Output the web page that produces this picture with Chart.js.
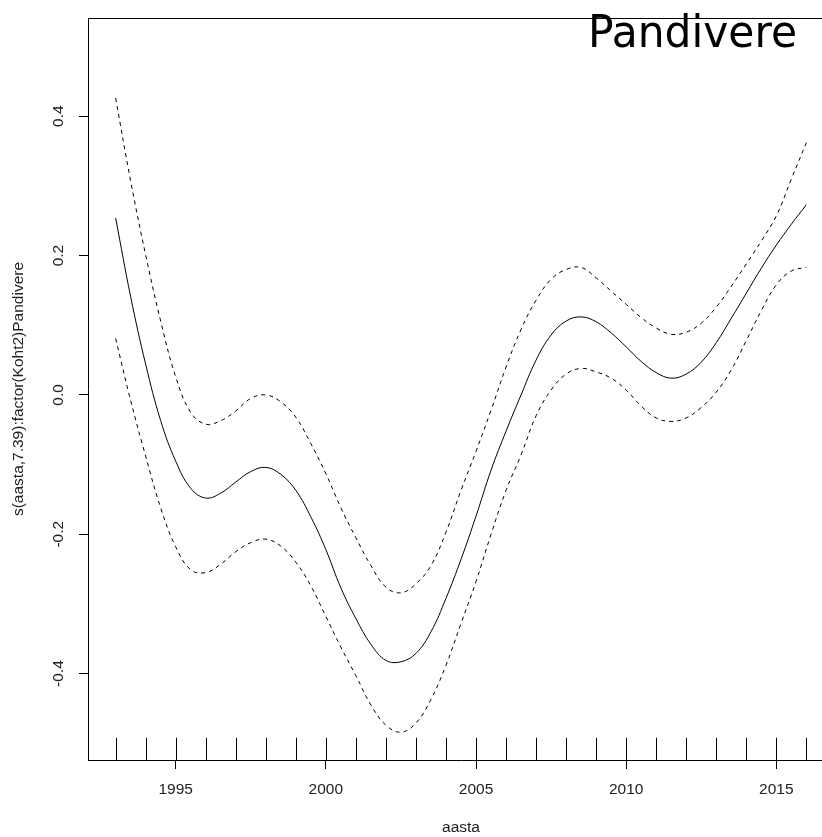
<!DOCTYPE html>
<html>
<head>
<meta charset="utf-8">
<script src="https://cdn.jsdelivr.net/npm/chart.js@4.4.0/dist/chart.umd.min.js"></script>
<style>
  html, body { margin: 0; padding: 0; background: #fff; overflow: hidden; }
  #wrap { width: 834px; height: 837px; }
</style>
</head>
<body>
<div id="wrap"><canvas id="grafico" width="834" height="837"></canvas></div>
<script>
// --- Dados ---
const aastad = [1993, 1993.5, 1994, 1994.5, 1995, 1995.5, 1996, 1996.5, 1997, 1997.5,
  1998, 1998.5, 1999, 1999.5, 2000, 2000.5, 2001, 2001.5, 2002, 2002.5,
  2003, 2003.5, 2004, 2004.5, 2005, 2005.5, 2006, 2006.5, 2007, 2007.5,
  2008, 2008.5, 2009, 2009.5, 2010, 2010.5, 2011, 2011.5, 2012, 2012.5,
  2013, 2013.5, 2014, 2014.5, 2015, 2015.5, 2016];

const hinnang = [0.254, 0.141, 0.044, -0.037, -0.095, -0.134, -0.148, -0.141, -0.125, -0.110,
  -0.104, -0.114, -0.137, -0.175, -0.222, -0.277, -0.321, -0.358, -0.381, -0.383,
  -0.371, -0.340, -0.292, -0.236, -0.174, -0.108, -0.052, 0.000, 0.050, 0.086,
  0.106, 0.112, 0.105, 0.089, 0.069, 0.048, 0.032, 0.024, 0.030, 0.047,
  0.075, 0.110, 0.146, 0.182, 0.215, 0.245, 0.273];

const ylemine = [0.426, 0.307, 0.201, 0.106, 0.026, -0.025, -0.042, -0.037, -0.023, -0.005,
  0.000, -0.010, -0.032, -0.070, -0.113, -0.162, -0.205, -0.245, -0.276, -0.284,
  -0.271, -0.245, -0.197, -0.137, -0.081, -0.022, 0.040, 0.094, 0.136, 0.166,
  0.180, 0.183, 0.168, 0.149, 0.130, 0.111, 0.096, 0.087, 0.090, 0.103,
  0.126, 0.156, 0.188, 0.221, 0.257, 0.310, 0.362];

const alumine = [0.081, -0.008, -0.088, -0.162, -0.218, -0.251, -0.255, -0.243, -0.225, -0.212,
  -0.207, -0.217, -0.240, -0.274, -0.318, -0.362, -0.403, -0.445, -0.474, -0.484,
  -0.471, -0.437, -0.388, -0.328, -0.268, -0.200, -0.137, -0.086, -0.030, 0.007,
  0.030, 0.038, 0.033, 0.024, 0.007, -0.016, -0.033, -0.038, -0.033, -0.018,
  0.004, 0.036, 0.078, 0.121, 0.158, 0.178, 0.183];

// rug: vaatlusaastad
const rugAastad = [1993, 1994, 1995, 1996, 1997, 1998, 1999, 2000, 2001, 2002, 2003, 2004,
  2005, 2006, 2007, 2008, 2009, 2010, 2011, 2012, 2013, 2014, 2015, 2016];

const xTicks = [1995, 2000, 2005, 2010, 2015];
const yTicks = [-0.4, -0.2, 0, 0.2, 0.4];
const yTickLabels = ['-0.4', '-0.2', '0.0', '0.2', '0.4'];

function pontos(valores) {
  return aastad.map((a, i) => ({ x: a, y: valores[i] }));
}

const fonte = { family: '"Liberation Sans", Arial, sans-serif', size: 15.5 };
const corTexto = '#222';

// caixa de cima, rug e o título "Pandivere"
const extras = {
  id: 'extras',
  afterDraw(chart) {
    const { ctx, chartArea, scales } = chart;
    ctx.save();
    ctx.strokeStyle = '#000';
    ctx.lineWidth = 1;
    ctx.beginPath();
    const top = Math.round(chartArea.top) + 0.5;
    ctx.moveTo(chartArea.left, top);
    ctx.lineTo(chartArea.right, top);
    ctx.lineTo(chartArea.right, chartArea.bottom);
    const len = (chartArea.bottom - chartArea.top) * 0.03;
    rugAastad.forEach(a => {
      const px = Math.round(scales.x.getPixelForValue(a)) + 0.5;
      ctx.moveTo(px, chartArea.bottom);
      ctx.lineTo(px, chartArea.bottom - len);
    });
    ctx.stroke();

    ctx.fillStyle = '#000';
    ctx.font = '45px "DejaVu Sans", sans-serif';
    ctx.textBaseline = 'alphabetic';
    const w = ctx.measureText('Pandivere').width;
    ctx.translate(588, 46.5);
    ctx.scale(209 / w, 1);
    ctx.fillText('Pandivere', 0, 0);
    ctx.restore();
  }
};

const linha = (dados, tracejado) => ({
  data: pontos(dados),
  borderColor: '#000',
  borderWidth: 1,
  borderDash: tracejado ? [4, 4] : [],
  pointRadius: 0,
  tension: 0.4,
  fill: false
});

new Chart(document.getElementById('grafico'), {
  type: 'line',
  data: {
    datasets: [linha(hinnang, false), linha(ylemine, true), linha(alumine, true)]
  },
  plugins: [extras],
  options: {
    responsive: false,
    animation: false,
    devicePixelRatio: 1,
    layout: { padding: { top: 18, right: 0, left: 0, bottom: 0 } },
    plugins: { legend: { display: false }, tooltip: { enabled: false } },
    scales: {
      x: {
        type: 'linear',
        position: 'bottom',
        min: 1992.08,
        max: 2016.92,
        afterFit(s) { s.height = 77; },
        afterBuildTicks(s) { s.ticks = xTicks.map(v => ({ value: v })); },
        grid: { drawOnChartArea: false, tickLength: 9, color: '#000' },
        border: { color: '#000', width: 1 },
        ticks: { font: fonte, color: corTexto, padding: 11, maxRotation: 0, autoSkip: false,
          callback: v => String(v) },
        title: { display: true, text: 'aasta', font: fonte, color: corTexto, padding: { top: 0, bottom: 0 } }
      },
      y: {
        min: -0.524,
        max: 0.541,
        afterFit(s) { s.width = 88; },
        afterBuildTicks(s) { s.ticks = yTicks.map(v => ({ value: v })); },
        grid: { drawOnChartArea: false, tickLength: 9, color: '#000' },
        border: { color: '#000', width: 1 },
        ticks: { font: fonte, color: corTexto, padding: 6.5, minRotation: 90, maxRotation: 90,
          crossAlign: 'center', autoSkip: false,
          callback: (v, i) => yTickLabels[i] },
        title: { display: true, text: 's(aasta,7.39):factor(Koht2)Pandivere', font: fonte,
          color: corTexto, padding: { top: 9, bottom: 0 } }
      }
    }
  }
});
</script>
</body>
</html>
